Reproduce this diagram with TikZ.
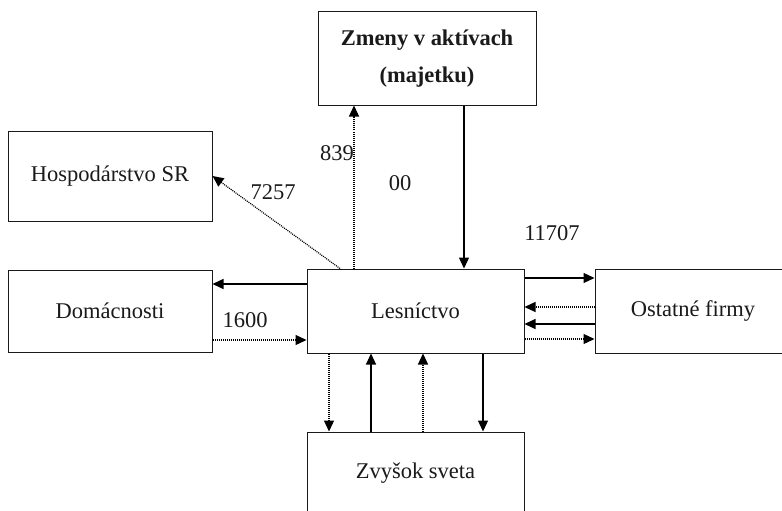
\documentclass[tikz,border=0pt]{standalone}
\usepackage{fontspec}
\setmainfont{Liberation Serif}
\usetikzlibrary{arrows.meta,calc}
\definecolor{ink}{HTML}{1A1A1A}
\tikzset{
  box/.style={draw=ink, line width=1pt, inner sep=0pt, text=ink, font=\fontsize{22.5}{37}\selectfont, align=center},
  solidarrow/.style={draw=black, line width=1.1pt, -{Triangle[length=11pt,width=10pt]}},
  dotarrow/.style={draw=black, line width=1.2pt, dash pattern=on 1pt off 1pt, -{Triangle[length=11pt,width=10pt]}},
  lbl/.style={text=ink, font=\fontsize{22.5}{26}\selectfont, inner sep=0pt}
}
\begin{document}
\begin{tikzpicture}[x=1pt,y=-1pt]
\useasboundingbox (0,0) rectangle (782,511);
\fill[white] (0,0) rectangle (782,511);
\begin{scope}
\clip (0,0) rectangle (782,511);
\node[box, minimum width=218pt, minimum height=93pt] (zm) at (427,58.5) {\textbf{Zmeny v aktívach}\\\textbf{(majetku)}};
\node[box, minimum width=204pt, minimum height=90pt] (hosp) at (110,176) {Hospodárstvo SR};
\node[box, minimum width=204pt, minimum height=82pt] (dom) at (110,311) {Domácnosti};
\node[box, minimum width=217pt, minimum height=84pt] (les) at (415.5,311) {Lesníctvo};
\node[box, minimum width=196pt, minimum height=84pt] (ost) at (693,311) {Ostatné firmy};
\node[box, minimum width=217pt, minimum height=82pt] (zv) at (415.5,473) {Zvyšok sveta};

% left
\draw[solidarrow] (les.west |- 0,284) -- (dom.east |- 0,284);
\draw[dotarrow] (dom.east |- 0,340) -- (les.west |- 0,340);
\draw[dotarrow] (340,0 |- les.north) -- (hosp.east);
% top
\draw[dotarrow] (354,0 |- les.north) -- (354,0 |- zm.south);
\draw[solidarrow] (464,0 |- zm.south) -- (464,0 |- les.north);
% right
\draw[solidarrow] (les.east |- 0,278) -- (ost.west |- 0,278);
\draw[dotarrow] (ost.west |- 0,307) -- (les.east |- 0,307);
\draw[solidarrow] (ost.west |- 0,324) -- (les.east |- 0,324);
\draw[dotarrow] (les.east |- 0,339) -- (ost.west |- 0,339);
% bottom
\draw[dotarrow] (329,0 |- les.south) -- (329,0 |- zv.north);
\draw[solidarrow] (371,0 |- zv.north) -- (371,0 |- les.south);
\draw[dotarrow] (423,0 |- zv.north) -- (423,0 |- les.south);
\draw[solidarrow] (483,0 |- les.south) -- (483,0 |- zv.north);

% labels
\node[lbl] (l839) at (337,153) {839};
\node[lbl] (l00) at (400,183) {00};
\node[lbl] (l7257) at (273,192) {7257};
\node[lbl] (l11707) at (552,233) {11707};
\node[lbl] (l1600) at (245,320) {1600};
\end{scope}
\end{tikzpicture}
\end{document}
